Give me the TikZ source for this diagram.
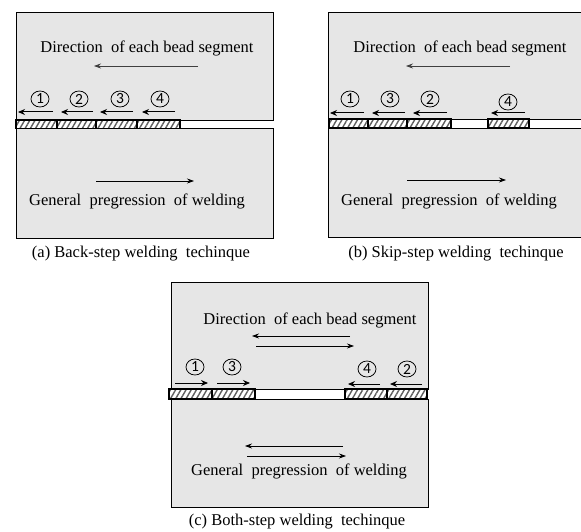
\documentclass[tikz,border=0pt]{standalone}
\usepackage{fontspec}
\setmainfont{Liberation Serif}
\newfontfamily\digitfont{Carlito}
\usetikzlibrary{arrows.meta,patterns.meta,shapes.geometric}
\definecolor{plategray}{HTML}{E6E6E6}
\definecolor{hatchgray}{HTML}{606060}
\begin{document}
\begin{tikzpicture}[x=1pt,y=-1pt,
  plate/.style={fill=plategray,draw=black,line width=0.9pt},
  bead/.style={pattern={Lines[angle=60,distance=4.5pt,line width=1.4pt]},pattern color=hatchgray,draw=black,line width=1.2pt},
  beadfill/.style={fill=white},
  label/.style={inner sep=0pt,font=\fontsize{16.5}{19}\selectfont},
  caption/.style={inner sep=0pt,font=\fontsize{16.5}{19}\selectfont},
  num/.style={ellipse,draw=black,line width=0.75pt,inner sep=0pt,minimum width=18pt,minimum height=16pt,font=\digitfont\fontsize{15.5}{15.5}\selectfont},
  bigarrow/.style={line width=0.7pt,-{Stealth[length=7pt,width=5pt]}},
  smallarrow/.style={line width=1pt,-{Stealth[length=7pt,width=6pt]}}]
\useasboundingbox[fill=white] (0,0) rectangle (581,532);

% ---------- (a) back-step ----------
\filldraw[plate] (16,12) rectangle (273,120);
\filldraw[plate] (16,128) rectangle (273,238);
\foreach \xa/\xb in {16/57,57/96,96/137,137/180}{
  \fill[beadfill] (\xa,120) rectangle (\xb,128.5);
  \draw[bead] (\xa,120) rectangle (\xb,128.5);
}
\node[label] (adir) at (147,48) {Direction\ \ of each bead segment};
\coordinate (adirS) at (198,66); \coordinate (adirE) at (94,66);
\draw[bigarrow,draw=black!75] (adirS) -- (adirE);
\node[num] (a1) at (40,99) {1};
\node[num] (a2) at (79,99) {2};
\node[num] (a3) at (120,99) {3};
\node[num] (a4) at (160,99) {4};
\coordinate (a1s) at (53,112);  \coordinate (a1e) at (18,112);
\coordinate (a2s) at (93,112);  \coordinate (a2e) at (61,112);
\coordinate (a3s) at (133,112); \coordinate (a3e) at (100,112);
\coordinate (a4s) at (175,112); \coordinate (a4e) at (142,112);
\foreach \k in {1,2,3,4}{\draw[smallarrow] (a\k s) -- (a\k e);}
\coordinate (agenS) at (96,181); \coordinate (agenE) at (194,181);
\draw[bigarrow] (agenS) -- (agenE);
\node[label] (agen) at (137,201) {General\ \ pregression\ \ of welding};
\node[caption] (acap) at (141,254) {(a) Back-step welding\ \ techinque};

% ---------- (b) skip-step ----------
\fill[plategray] (328,12) rectangle (581,119);
\draw[line width=0.9pt] (582,12) -- (328,12) -- (328,119) -- (582,119);
\fill[plategray] (328,128) rectangle (581,237);
\draw[line width=0.9pt] (582,128) -- (328,128) -- (328,237) -- (582,237);
\foreach \xa/\xb in {329/368,368/407,407/451,488/529}{
  \fill[beadfill] (\xa,119) rectangle (\xb,128);
  \draw[bead] (\xa,119) rectangle (\xb,128);
}
\node[label] (bdir) at (460,48) {Direction\ \ of each bead segment};
\coordinate (bdirS) at (510,66); \coordinate (bdirE) at (406,66);
\draw[bigarrow,draw=black!75] (bdirS) -- (bdirE);
\node[num] (b1) at (350,99) {1};
\node[num] (b3) at (390,99) {3};
\node[num] (b2) at (430,99) {2};
\node[num] (b4) at (508,102) {4};
\coordinate (b1s) at (364,113); \coordinate (b1e) at (330,113);
\coordinate (b3s) at (405,113); \coordinate (b3e) at (372,113);
\coordinate (b2s) at (447,113); \coordinate (b2e) at (413,113);
\coordinate (b4s) at (525,113); \coordinate (b4e) at (491,113);
\foreach \k in {1,2,3,4}{\draw[smallarrow] (b\k s) -- (b\k e);}
\coordinate (bgenS) at (407,180); \coordinate (bgenE) at (506,180);
\draw[bigarrow] (bgenS) -- (bgenE);
\node[label] (bgen) at (449,201) {General\ \ pregression\ \ of welding};
\node[caption] (bcap) at (456,254) {(b) Skip-step welding\ \ techinque};

% ---------- (c) both-step ----------
\filldraw[plate] (171,282) rectangle (428,389);
\filldraw[plate] (171,399) rectangle (428,507);
\foreach \xa/\xb in {169/212,212/255,345/387,387/427}{
  \fill[beadfill] (\xa,389) rectangle (\xb,399);
  \draw[bead] (\xa,389) rectangle (\xb,399);
}
\node[label] (cdir) at (310,320) {Direction\ \ of each bead segment};
\coordinate (cdirLS) at (350,336); \coordinate (cdirLE) at (252,336);
\coordinate (cdirRS) at (256,346); \coordinate (cdirRE) at (354,346);
\draw[bigarrow] (cdirLS) -- (cdirLE);
\draw[bigarrow] (cdirRS) -- (cdirRE);
\node[num] (c1) at (195,367) {1};
\node[num] (c3) at (232,367) {3};
\node[num] (c4) at (367,369) {4};
\node[num] (c2) at (407,369) {2};
\coordinate (c1s) at (175,383); \coordinate (c1e) at (208,383);
\coordinate (c3s) at (217,383); \coordinate (c3e) at (250,383);
\coordinate (c4s) at (380,384); \coordinate (c4e) at (348,384);
\coordinate (c2s) at (422,384); \coordinate (c2e) at (390,384);
\foreach \k in {1,2,3,4}{\draw[smallarrow] (c\k s) -- (c\k e);}
\coordinate (cgenLS) at (343,446); \coordinate (cgenLE) at (245,446);
\coordinate (cgenRS) at (247,456); \coordinate (cgenRE) at (346,456);
\draw[bigarrow] (cgenLS) -- (cgenLE);
\draw[bigarrow] (cgenRS) -- (cgenRE);
\node[label] (cgen) at (299,471) {General\ \ pregression\ \ of welding};
\node[caption] (ccap) at (297,522) {(c) Both-step welding\ \ techinque};
\end{tikzpicture}
\end{document}
